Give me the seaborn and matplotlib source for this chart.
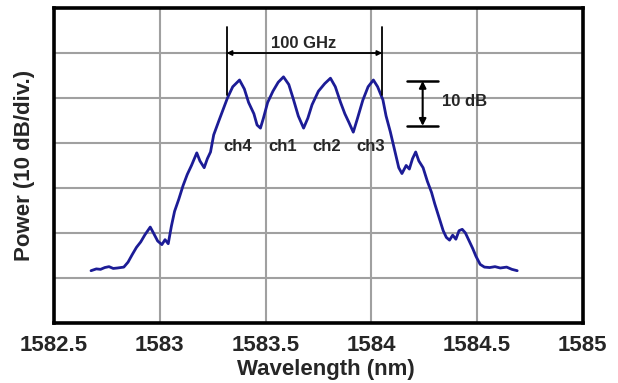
import pandas as pd
import matplotlib
matplotlib.use('Agg')
import matplotlib.pyplot as plt
import seaborn as sns

# spectrum (wavelength in nm, power in dB, 10 dB per division)
wavelength = [1582.675, 1582.70, 1582.72, 1582.74, 1582.76, 1582.78, 1582.80, 1582.83,
              1582.85, 1582.87, 1582.89, 1582.91, 1582.93, 1582.955, 1582.97, 1582.99,
              1583.01, 1583.025, 1583.04, 1583.055, 1583.07, 1583.09, 1583.11, 1583.13,
              1583.15, 1583.175, 1583.19, 1583.21, 1583.225, 1583.24, 1583.255, 1583.28,
              1583.30, 1583.32, 1583.345, 1583.377, 1583.40, 1583.42, 1583.445, 1583.46,
              1583.476, 1583.49, 1583.51, 1583.535, 1583.56, 1583.585, 1583.61, 1583.63,
              1583.655, 1583.68, 1583.70, 1583.72, 1583.75, 1583.78, 1583.807, 1583.83,
              1583.855, 1583.875, 1583.895, 1583.915, 1583.935, 1583.96, 1583.985, 1584.01,
              1584.03, 1584.055, 1584.07, 1584.09, 1584.11, 1584.13, 1584.145, 1584.165,
              1584.18, 1584.195, 1584.21, 1584.225, 1584.245, 1584.265, 1584.285, 1584.30,
              1584.32, 1584.34, 1584.355, 1584.37, 1584.385, 1584.40, 1584.415, 1584.43,
              1584.445, 1584.46, 1584.48, 1584.495, 1584.515, 1584.535, 1584.56, 1584.585,
              1584.61, 1584.64, 1584.665, 1584.69]
power = [11.6, 12.0, 11.9, 12.3, 12.5, 12.1, 12.2, 12.4,
         13.5, 15.2, 16.8, 18.0, 19.6, 21.3, 20.0, 18.2,
         17.4, 18.5, 17.6, 21.5, 24.8, 27.5, 30.5, 33.0,
         35.0, 37.8, 36.0, 34.5, 36.5, 38.0, 41.8, 45.0,
         47.5, 50.0, 52.5, 54.0, 52.0, 49.0, 46.5, 44.0,
         43.3, 45.5, 49.0, 51.5, 53.5, 54.7, 53.0, 50.0,
         46.0, 43.3, 45.5, 48.5, 51.5, 53.2, 54.4, 52.5,
         49.0, 46.5, 44.5, 42.4, 45.5, 49.5, 52.5, 54.0,
         52.5, 49.6, 46.0, 42.5, 38.5, 34.5, 33.2, 35.0,
         34.2, 36.5, 38.0, 36.0, 34.5, 31.5, 29.0, 26.5,
         23.5, 20.5, 19.0, 18.4, 19.5, 18.6, 20.5, 20.8,
         20.0, 18.5, 16.5, 14.8, 13.0, 12.4, 12.3, 12.5,
         12.2, 12.4, 11.9, 11.6]

x_ticks = [1582.5, 1583, 1583.5, 1584, 1584.5, 1585]
x_tick_labels = ['1582.5', '1583', '1583.5', '1584', '1584.5', '1585']
y_ticks = [10, 20, 30, 40, 50, 60]

channels = ['ch4', 'ch1', 'ch2', 'ch3']
channel_x = [1583.37, 1583.58, 1583.79, 1583.995]
channel_y = 39.3

spacing_left, spacing_right = 1583.316, 1584.052
scale_top, scale_bottom = 53.8, 43.8

df = pd.DataFrame({'wavelength': wavelength, 'power': power})

sns.set_style("whitegrid")
plt.rcParams['font.family'] = ['Liberation Sans', 'DejaVu Sans']

fig = plt.figure(figsize=(6.18, 3.83), dpi=100)
ax = fig.add_axes([0.0874, 0.157, 0.8556, 0.822])

sns.lineplot(data=df, x='wavelength', y='power', sort=False, color='#1c1c96',
             linewidth=2.0, ax=ax)

ax.set_xlim(1582.5, 1585)
ax.set_ylim(0, 70)
ax.set_xticks(x_ticks)
ax.set_xticklabels(x_tick_labels, fontsize=16, fontweight='bold')
ax.set_yticks(y_ticks)
ax.set_yticklabels([])
ax.grid(True, color='#a0a0a0', linewidth=1.5)
ax.tick_params(axis='both', direction='in', length=3, color='#555555', pad=9)
for s in ax.spines.values():
    s.set_color('black')
    s.set_linewidth(2.6)

ax.set_xlabel('Wavelength (nm)', fontsize=16, fontweight='bold')
ax.set_ylabel('Power (10 dB/div.)', fontsize=16, fontweight='bold')
ax.xaxis.set_label_coords(0.514, -0.115)
ax.yaxis.set_label_coords(-0.036, 0.5)

# 100 GHz channel spacing marker
ax.plot([spacing_left, spacing_left], [50.7, 65.8], color='black', lw=1.3)
ax.plot([spacing_right, spacing_right], [50.7, 65.8], color='black', lw=1.3)
ax.annotate('', xy=(spacing_left, 60), xytext=(spacing_right, 60),
            arrowprops=dict(arrowstyle='<|-|>', color='black', lw=1.3,
                            mutation_scale=7, shrinkA=0, shrinkB=0))
ax.text(1583.68, 62.2, '100 GHz', fontsize=12, fontweight='bold',
        ha='center', va='center')

# 10 dB scale bar
ax.plot([1584.17, 1584.316], [scale_top, scale_top], color='black', lw=1.8)
ax.plot([1584.17, 1584.316], [scale_bottom, scale_bottom], color='black', lw=1.8)
ax.annotate('', xy=(1584.243, scale_top), xytext=(1584.243, scale_bottom),
            arrowprops=dict(arrowstyle='<|-|>', color='black', lw=1.5,
                            mutation_scale=10, shrinkA=0, shrinkB=0))
ax.text(1584.335, 49.3, '10 dB', fontsize=12, fontweight='bold',
        ha='left', va='center')

for name, cx in zip(channels, channel_x):
    ax.text(cx, channel_y, name, fontsize=12, fontweight='bold',
            ha='center', va='center')

fig.savefig('out.png', dpi=100)
